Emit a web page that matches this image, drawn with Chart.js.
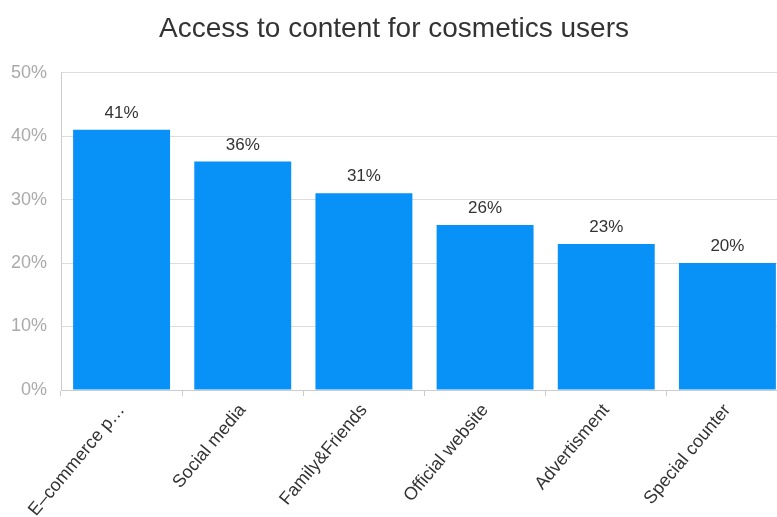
<!DOCTYPE html>
<html>
<head>
<meta charset="utf-8">
<script src="https://cdn.jsdelivr.net/npm/chart.js@4/dist/chart.umd.min.js"></script>
<style>
  html, body { margin: 0; padding: 0; background: #fff; overflow: hidden; }
  #wrap { width: 794px; height: 517px; }
</style>
</head>
<body>
<div id="wrap"><canvas id="myChart" width="794" height="517"></canvas></div>
<script>
// chart data
const categories = ['E\u2013commerce p\u2026', 'Social media', 'Family&Friends', 'Official website', 'Advertisment', 'Special counter'];
const shares = [41, 36, 31, 26, 23, 20];
const yTicks = [0, 10, 20, 30, 40, 50];

const fontFamily = '"Liberation Sans", Arial, sans-serif';

// draws the value on top of each bar
const valueLabels = {
  id: 'valueLabels',
  afterDatasetsDraw(chart) {
    const ctx = chart.ctx;
    const meta = chart.getDatasetMeta(0);
    ctx.save();
    ctx.font = '17px ' + fontFamily;
    ctx.fillStyle = '#333';
    ctx.textAlign = 'center';
    ctx.textBaseline = 'bottom';
    meta.data.forEach(function (bar, i) {
      ctx.fillText(shares[i] + '%', bar.x, bar.y - 8);
    });
    ctx.restore();
  }
};

const ctx = document.getElementById('myChart').getContext('2d');
const myChart = new Chart(ctx, {
  type: 'bar',
  data: {
    labels: categories,
    datasets: [{
      data: shares,
      backgroundColor: '#0891f6',
      categoryPercentage: 0.8,
      barPercentage: 1.0
    }]
  },
  options: {
    responsive: false,
    animation: false,
    layout: { padding: { right: 6 } },
    plugins: {
      legend: { display: false },
      tooltip: { enabled: false },
      title: {
        display: true,
        text: 'Access to content for cosmetics users',
        color: '#333',
        font: { family: fontFamily, size: 28, weight: 'normal' },
        padding: { top: 12, bottom: 27 }
      }
    },
    scales: {
      x: {
        grid: { display: true, offset: true, drawOnChartArea: false, tickLength: 6, color: '#ccc' },
        border: { color: '#ccc' },
        ticks: {
          autoSkip: false,
          minRotation: 50,
          maxRotation: 50,
          color: '#333',
          padding: 4,
          font: { family: fontFamily, size: 18 }
        },
        afterFit(scale) { scale.height = 127; }
      },
      y: {
        min: 0,
        max: 50,
        afterBuildTicks(scale) { scale.ticks = yTicks.map(v => ({ value: v })); },
        grid: { color: '#ddd', drawTicks: false },
        border: { color: '#ccc' },
        ticks: {
          color: '#aaa',
          padding: 14,
          font: { family: fontFamily, size: 18 },
          callback: v => v + '%'
        },
        afterFit(scale) { scale.width = 61; }
      }
    }
  },
  plugins: [valueLabels]
});
</script>
</body>
</html>
